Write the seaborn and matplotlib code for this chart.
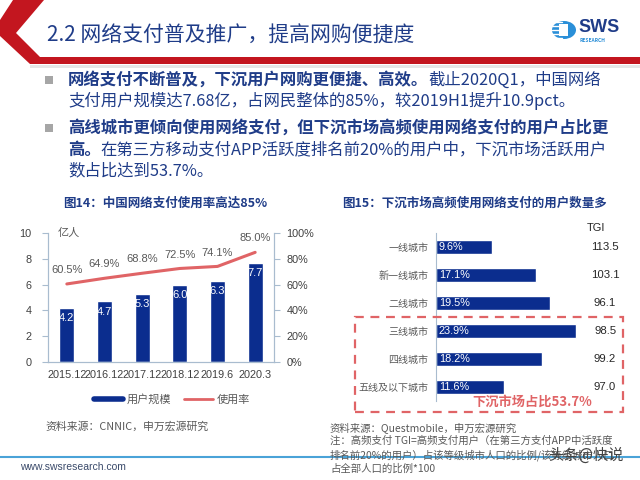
import numpy as np
import matplotlib
matplotlib.use("Agg")
import matplotlib.pyplot as plt
import matplotlib.patches as mpatches
from matplotlib.lines import Line2D
import seaborn as sns

# data
periods = ["2015.12", "2016.12", "2017.12", "2018.12", "2019.6", "2020.3"]
users = [4.2, 4.7, 5.3, 6.0, 6.3, 7.7]          # 亿人
rate = [60.5, 64.9, 68.8, 72.5, 74.1, 85.0]     # %
tiers = ["一线城市", "新一线城市", "二线城市", "三线城市", "四线城市", "五线及以下城市"]
share = [9.6, 17.1, 19.5, 23.9, 18.2, 11.6]     # %
tgi = [113.5, 103.1, 96.1, 98.5, 99.2, 97.0]

sns.set_style("white")
plt.rcParams["font.family"] = ["Noto Sans CJK SC", "DejaVu Sans"]
plt.rcParams["axes.unicode_minus"] = False

NAVY = "#0b2d8e"
RED = "#e06466"
BLUE_TXT = "#1f3c88"
GRAY = "#595959"
SPINE = "#a9bccf"
NUM = ["Liberation Sans", "Noto Sans CJK SC"]

W, H = 640, 480
fig = plt.figure(figsize=(6.4, 4.8), dpi=100)


def P(x, y):
    return (x / W, 1 - y / H)


def ftext(x, y, s, **kw):
    return fig.text(x / W, 1 - y / H, s, **kw)


renderer = fig.canvas.get_renderer()


def run_text(x, y, parts, size=11.8):
    # draw bold / regular pieces one after another on a line
    for s, wt in parts:
        t = ftext(x, y, s, fontsize=size, fontweight=wt, color=BLUE_TXT, va="center", ha="left")
        x += t.get_window_extent(renderer).width


# header
red = "#c3161f"
hdr = mpatches.Polygon([P(13, 0), P(44, 0), P(16, 33), P(40, 57), P(640, 57), P(640, 64),
                        P(30, 64), P(0, 36), P(0, 20)],
                       closed=True, transform=fig.transFigure, color=red, lw=0)
fig.patches.append(hdr)
fig.patches.append(mpatches.Rectangle(P(30, 68), 610 / W, 3 / H, transform=fig.transFigure,
                                      color="#e6e6e6", lw=0))
ftext(47, 36, "2.2 网络支付普及推广，提高网购便捷度", fontsize=15, color=BLUE_TXT, va="center")

# logo
fig.patches.append(mpatches.Circle(P(564, 30), 12 / W, transform=fig.transFigure, color="#2a8fd8", lw=0))
for yy in [22, 26, 30, 34, 38]:
    fig.lines.append(Line2D([552 / W, 562 / W], [1 - yy / H] * 2, transform=fig.transFigure,
                            color="white", lw=1))
fig.patches.append(mpatches.Rectangle(P(559, 36), 9 / W, 12 / H, transform=fig.transFigure,
                                      color="white", lw=0))
ftext(578, 28, "SWS", fontsize=13, fontweight="bold", color=BLUE_TXT, va="center",
      family=["Liberation Sans", "DejaVu Sans"])
ftext(580, 40, "RESEARCH", fontsize=3.5, fontweight="bold", color="#2a8fd8", va="center")

# bullets
for yy in [80, 128]:
    fig.patches.append(mpatches.Rectangle(P(45, yy + 4), 8 / W, 8 / H, transform=fig.transFigure,
                                          color="#a6a6a6", lw=0))
run_text(68, 80, [("网络支付不断普及，下沉用户网购更便捷、高效。", "bold"),
                  ("截止2020Q1，中国网络", "normal")])
run_text(68, 101, [("支付用户规模达7.68亿，占网民整体的85%，较2019H1提升10.9pct。", "normal")])
run_text(68, 128, [("高线城市更倾向使用网络支付，但下沉市场高频使用网络支付的用户占比更", "bold")])
run_text(68, 150, [("高。", "bold"), ("在第三方移动支付APP活跃度排名前20%的用户中，下沉市场活跃用户", "normal")])
run_text(68, 171, [("数占比达到53.7%。", "normal")])

# left chart
ftext(165, 203, "图14：中国网络支付使用率高达85%", fontsize=9, fontweight="bold",
      color=BLUE_TXT, ha="center", va="center")
ax = fig.add_axes([48 / W, 1 - 362 / H, 226 / W, 129 / H])
sns.barplot(x=periods, y=users, color=NAVY, saturation=1, width=0.4, ax=ax)
ax.set_xlim(-0.5, 5.5)
ax.set_ylim(0, 10)
ax.set_yticks(range(0, 11, 2))
ax.set_xlabel("")
ax.set_ylabel("")
for i, v in enumerate(users):
    ax.annotate(f"{v:.1f}", (i, v), xytext=(0, -4), textcoords="offset points",
                ha="center", va="top", color="white", fontsize=8, family=NUM)
ax.text(0.045, 1.0, "亿人", transform=ax.transAxes, fontsize=8, color=GRAY, va="center")
ax2 = ax.twinx()
sns.lineplot(x=np.arange(6), y=rate, color=RED, lw=2.2, ax=ax2)
ax2.set_ylim(0, 100)
ax2.set_yticks(range(0, 101, 20))
ax2.set_yticklabels([f"{v}%" for v in range(0, 101, 20)])
ax2.set_ylabel("")
for i, v in enumerate(rate):
    ax2.annotate(f"{v:.1f}%", (i, v), xytext=(0, 10), textcoords="offset points",
                 ha="center", va="center", color=GRAY, fontsize=8, family=NUM)
for a in (ax, ax2):
    for s in a.spines.values():
        s.set_color(SPINE)
    a.spines["top"].set_visible(False)
ax.set_xticks(np.arange(-0.5, 6, 1), minor=True)
ax.tick_params(axis="x", which="major", length=0, pad=6, labelsize=7.8, labelcolor="#404040")
ax.tick_params(axis="x", which="minor", length=4, color=SPINE, direction="out")
ax.tick_params(axis="y", length=4, color=SPINE, direction="out", labelsize=7.8,
               labelcolor="#404040", pad=8)
ax2.tick_params(axis="y", length=4, color=SPINE, direction="out", labelsize=7.8,
                labelcolor="#404040", pad=5)
for lab in ax.get_xticklabels() + ax.get_yticklabels() + ax2.get_yticklabels():
    lab.set_family(NUM)
ax.grid(False)
ax2.grid(False)

handles = [Line2D([], [], color=NAVY, lw=4), Line2D([], [], color=RED, lw=2)]
fig.legend(handles, ["用户规模", "使用率"], loc="center", bbox_to_anchor=P(172, 399),
           ncol=2, frameon=False, fontsize=8, handlelength=2.6, columnspacing=1.2,
           handletextpad=0.3, labelcolor=GRAY)
ftext(45, 427, "资料来源：CNNIC，申万宏源研究", fontsize=7.8, color=GRAY, va="center")

# right chart
ftext(342, 203, "图15：下沉市场高频使用网络支付的用户数量多", fontsize=9, fontweight="bold",
      color=BLUE_TXT, va="center")
axr = fig.add_axes([436 / W, 1 - 401 / H, 175.5 / W, 168 / H])
sns.barplot(x=share, y=tiers, orient="h", color=NAVY, saturation=1, width=0.5, ax=axr)
axr.set_xlim(0, 30)
axr.set_ylim(5.5, -0.5)
axr.set_xlabel("")
axr.set_ylabel("")
axr.set_xticks([])
for s in ["top", "right", "bottom"]:
    axr.spines[s].set_visible(False)
axr.spines["left"].set_color(SPINE)
axr.tick_params(axis="y", length=0, pad=5.5, labelsize=7.2, labelcolor=GRAY)
for i, v in enumerate(share):
    axr.text(0.5, i, f"{v:.1f}%", color="white", fontsize=7.8, va="center", ha="left", family=NUM)
    axr.text(28.9, i, f"{tgi[i]:.1f}", color="#262626", fontsize=8.2, va="center", ha="center",
             family=NUM, clip_on=False)
axr.text(27.4, -0.68, "TGI", color="#262626", fontsize=8, va="center", ha="center",
         family=NUM, clip_on=False)
axr.grid(False)

box = mpatches.Rectangle(P(355, 412), 268 / W, 95 / H, transform=fig.transFigure,
                         fill=False, ec=RED, lw=1.6, ls=(0, (4, 3)))
fig.patches.append(box)
ftext(532, 402, "下沉市场占比53.7%", fontsize=9.5, fontweight="bold", color=RED,
      ha="center", va="center")

ftext(330, 428, "资料来源：Questmobile，申万宏源研究", fontsize=7.5, color=GRAY, va="center")
ftext(330, 441, "注：高频支付 TGI=高频支付用户（在第三方支付APP中活跃度", fontsize=7.5, color=GRAY, va="center")
ftext(330, 455, "排名前20%的用户）占该等级城市人口的比例/该等级城市人口", fontsize=7.5, color=GRAY, va="center")
ftext(330, 469, "占全部人口的比例*100", fontsize=7.5, color=GRAY, va="center")

# footer
fig.lines.append(Line2D([0, 1], [1 - 457 / H] * 2, transform=fig.transFigure, color="#4aa3d8", lw=1.5))
ftext(20, 467, "www.swsresearch.com", fontsize=7.5, color="#3a4a6a", va="center",
      family=NUM)
ftext(548, 455, "头条@快说", fontsize=11, color="#444444", va="center")

fig.savefig("out.png", dpi=100)
